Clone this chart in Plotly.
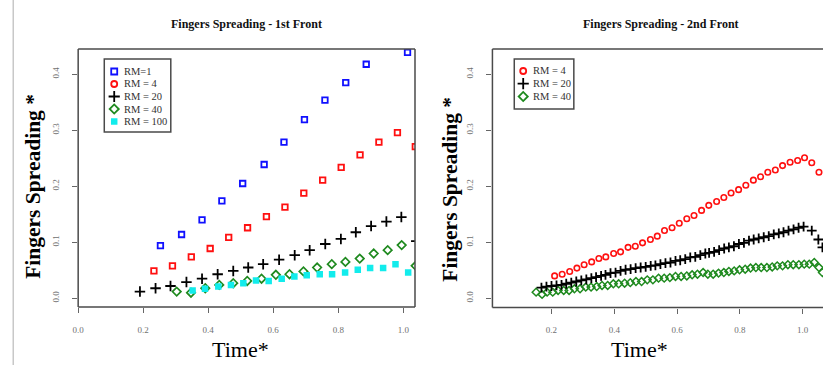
import plotly.graph_objects as go

W, H = 823, 365

# ---------------- DATA ----------------
# Left panel: Fingers Spreading - 1st Front
l_rm1_x = [0.253, 0.318, 0.381, 0.442, 0.506, 0.572, 0.633, 0.696, 0.759, 0.823, 0.886, 1.013]
l_rm1_y = [0.094, 0.114, 0.140, 0.174, 0.205, 0.239, 0.279, 0.319, 0.354, 0.385, 0.418, 0.439]

l_rm4_x = [0.233, 0.290, 0.348, 0.406, 0.463, 0.521, 0.579, 0.636, 0.694, 0.752, 0.809, 0.867, 0.925, 0.982, 1.037]
l_rm4_y = [0.049, 0.058, 0.074, 0.089, 0.109, 0.126, 0.146, 0.163, 0.188, 0.211, 0.234, 0.256, 0.279, 0.296, 0.271]

l_rm20_x = [0.190, 0.238, 0.284, 0.333, 0.381, 0.429, 0.477, 0.523, 0.569, 0.618,
            0.666, 0.712, 0.760, 0.808, 0.854, 0.901, 0.948, 0.994, 1.040]
l_rm20_y = [0.012, 0.018, 0.022, 0.029, 0.035, 0.043, 0.049, 0.055, 0.061, 0.069,
            0.077, 0.086, 0.097, 0.106, 0.118, 0.129, 0.137, 0.145, 0.102]

l_rm40_x = [0.303, 0.347, 0.391, 0.434, 0.477, 0.520, 0.564, 0.608, 0.650,
            0.693, 0.735, 0.780, 0.822, 0.866, 0.909, 0.952, 0.995, 1.038]
l_rm40_y = [0.012, 0.010, 0.018, 0.024, 0.027, 0.031, 0.035, 0.042, 0.043,
            0.048, 0.055, 0.061, 0.065, 0.071, 0.080, 0.086, 0.095, 0.058]

l_rm100_x = [0.352, 0.390, 0.431, 0.470, 0.508, 0.547, 0.586, 0.626, 0.665,
             0.703, 0.743, 0.781, 0.821, 0.860, 0.898, 0.938, 0.976, 1.015]
l_rm100_y = [0.014, 0.017, 0.021, 0.024, 0.027, 0.032, 0.031, 0.035, 0.039,
             0.041, 0.043, 0.043, 0.046, 0.051, 0.054, 0.054, 0.061, 0.046]

# Right panel: Fingers Spreading - 2nd Front
r_rm4_x = [0.210, 0.234, 0.258, 0.281, 0.304, 0.328, 0.351, 0.373, 0.398, 0.420,
           0.444, 0.467, 0.490, 0.515, 0.537, 0.560, 0.584, 0.607, 0.631, 0.654,
           0.678, 0.701, 0.726, 0.749, 0.772, 0.796, 0.819, 0.843, 0.866, 0.889,
           0.913, 0.936, 0.960, 0.984, 1.006, 1.029, 1.052]
r_rm4_y = [0.040, 0.043, 0.048, 0.054, 0.060, 0.065, 0.071, 0.074, 0.080, 0.083,
           0.091, 0.093, 0.099, 0.105, 0.111, 0.121, 0.126, 0.134, 0.142, 0.148,
           0.157, 0.166, 0.173, 0.180, 0.188, 0.194, 0.202, 0.211, 0.217, 0.225,
           0.229, 0.237, 0.243, 0.246, 0.251, 0.242, 0.225]

r_rm20_x = [0.168, 0.184, 0.200, 0.216, 0.232, 0.247, 0.263, 0.279, 0.295, 0.311,
            0.327, 0.342, 0.358, 0.372, 0.388, 0.404, 0.420, 0.436, 0.452, 0.468,
            0.484, 0.500, 0.516, 0.531, 0.547, 0.563, 0.579, 0.595, 0.610, 0.626,
            0.642, 0.658, 0.674, 0.690, 0.702, 0.718, 0.734, 0.750, 0.765, 0.781,
            0.797, 0.813, 0.829, 0.844, 0.860, 0.876, 0.892, 0.908, 0.924, 0.939,
            0.955, 0.971, 0.987, 1.003, 1.029, 1.050, 1.063]
r_rm20_y = [0.019, 0.021, 0.022, 0.023, 0.024, 0.026, 0.028, 0.030, 0.032, 0.034,
            0.036, 0.038, 0.040, 0.042, 0.045, 0.046, 0.049, 0.051, 0.052, 0.054,
            0.055, 0.056, 0.058, 0.059, 0.061, 0.063, 0.064, 0.067, 0.068, 0.070,
            0.073, 0.074, 0.077, 0.080, 0.081, 0.083, 0.086, 0.089, 0.091, 0.093,
            0.097, 0.099, 0.103, 0.105, 0.107, 0.109, 0.111, 0.114, 0.116, 0.118,
            0.121, 0.123, 0.126, 0.128, 0.121, 0.105, 0.091]

r_rm40_x = [0.151, 0.170, 0.186, 0.204, 0.221, 0.239, 0.256, 0.273, 0.291, 0.309,
            0.326, 0.344, 0.361, 0.379, 0.397, 0.414, 0.433, 0.451, 0.469, 0.487,
            0.505, 0.523, 0.541, 0.559, 0.577, 0.595, 0.613, 0.631, 0.648, 0.665,
            0.683, 0.698, 0.715, 0.732, 0.749, 0.765, 0.782, 0.799, 0.817, 0.834,
            0.851, 0.868, 0.886, 0.903, 0.919, 0.936, 0.953, 0.970, 0.988, 1.005,
            1.021, 1.037, 1.052, 1.063]
r_rm40_y = [0.011, 0.007, 0.011, 0.011, 0.014, 0.014, 0.014, 0.017, 0.017, 0.020,
            0.020, 0.021, 0.023, 0.023, 0.026, 0.026, 0.027, 0.028, 0.030, 0.030,
            0.033, 0.033, 0.036, 0.036, 0.037, 0.039, 0.039, 0.040, 0.042, 0.043,
            0.046, 0.043, 0.043, 0.045, 0.046, 0.048, 0.049, 0.051, 0.052, 0.054,
            0.055, 0.055, 0.055, 0.056, 0.058, 0.058, 0.060, 0.060, 0.060, 0.061,
            0.061, 0.064, 0.055, 0.046]

x_ticks_left = [0.0, 0.2, 0.4, 0.6, 0.8, 1.0]
x_ticks_right = [0.2, 0.4, 0.6, 0.8, 1.0]
y_ticks = [0.0, 0.1, 0.2, 0.3, 0.4]

left_title = "Fingers Spreading - 1st Front"
right_title = "Fingers Spreading - 2nd Front"
y_title = "Fingers Spreading *"
x_title = "Time*"
left_legend_labels = ["RM=1", "RM = 4", "RM = 20", "RM = 40", "RM = 100"]
right_legend_labels = ["RM = 4", "RM = 20", "RM = 40"]

# ---------------- STYLE ----------------
BLUE, RED, BLACK, GREEN, CYAN = "#1010ff", "#ff1010", "#000000", "#1f8a1f", "#12ecec"
SERIF = "Liberation Serif, Times New Roman, serif"
FRAME = "#4a4a4a"

def px(xp):
    return xp / W

def py(yp):
    return 1 - yp / H

sym_left = {
    "sq": dict(symbol="square-open", size=5.5, line=dict(width=1.8)),
    "plus": dict(symbol="cross-thin-open", size=7.5, line=dict(width=1.8)),
    "dia": dict(symbol="diamond-open", size=6.5, line=dict(width=1.7)),
    "fsq": dict(symbol="square", size=6.5, line=dict(width=0)),
}
sym_right = {
    "circ": dict(symbol="circle-open", size=5.5, line=dict(width=1.6)),
    "plus": dict(symbol="cross-thin-open", size=7, line=dict(width=1.8)),
    "dia": dict(symbol="diamond-open", size=6, line=dict(width=1.5)),
}
sym_legend = {
    "sq": dict(symbol="square-open", size=6, line=dict(width=1.8)),
    "circ": dict(symbol="circle-open", size=6, line=dict(width=1.8)),
    "plus": dict(symbol="cross-thin-open", size=8, line=dict(width=1.8)),
    "dia": dict(symbol="diamond-open", size=7, line=dict(width=1.8)),
    "fsq": dict(symbol="square", size=6.5, line=dict(width=0)),
}

def mk(table, kind, color):
    d = dict(table[kind])
    d["color"] = color
    d["line"] = dict(d["line"], color=color)
    return d

fig = go.Figure()

left_series = [
    (l_rm1_x, l_rm1_y, "sq", BLUE),
    (l_rm4_x, l_rm4_y, "sq", RED),
    (l_rm20_x, l_rm20_y, "plus", BLACK),
    (l_rm40_x, l_rm40_y, "dia", GREEN),
    (l_rm100_x, l_rm100_y, "fsq", CYAN),
]
for xs, ys, k, c in left_series:
    fig.add_trace(go.Scatter(x=xs, y=ys, mode="markers", marker=mk(sym_left, k, c),
                             xaxis="x", yaxis="y", showlegend=False))

right_series = [
    (r_rm40_x, r_rm40_y, "dia", GREEN),
    (r_rm20_x, r_rm20_y, "plus", BLACK),
    (r_rm4_x, r_rm4_y, "circ", RED),
]
for xs, ys, k, c in right_series:
    fig.add_trace(go.Scatter(x=xs, y=ys, mode="markers", marker=mk(sym_right, k, c),
                             xaxis="x2", yaxis="y2", showlegend=False))

# ---------------- manual legends ----------------
shapes = []
annotations = []

def add_legend(box, x_mark, x_text, ys, labels, kinds, colors):
    x0, y0, x1, y1 = box
    shapes.append(dict(type="rect", xref="paper", yref="paper",
                       x0=px(x0), x1=px(x1), y0=py(y1), y1=py(y0),
                       line=dict(color=FRAME, width=1.5), layer="above"))
    for yy, lab, k, c in zip(ys, labels, kinds, colors):
        fig.add_trace(go.Scatter(x=[x_mark], y=[yy], mode="markers", marker=mk(sym_legend, k, c),
                                 xaxis="x3", yaxis="y3", showlegend=False, hoverinfo="skip"))
        annotations.append(dict(text=lab, x=px(x_text), y=py(yy), xref="paper", yref="paper",
                                xanchor="left", yanchor="middle", showarrow=False,
                                font=dict(family=SERIF, size=10.5, color="#333")))

add_legend((99, 59, 166, 132), 109, 117, [71.5, 84, 96.5, 109, 121.5],
           left_legend_labels, ["sq", "circ", "plus", "dia", "fsq"],
           [BLUE, RED, BLACK, GREEN, CYAN])
add_legend((512, 59, 572, 109), 521, 529, [71, 83.7, 96.5],
           right_legend_labels, ["circ", "plus", "dia"], [RED, BLACK, GREEN])

# titles
for cx, t in [(242.5, left_title), (660, right_title)]:
    annotations.append(dict(text="<b>" + t + "</b>", x=px(cx), y=py(24), xref="paper", yref="paper",
                            xanchor="center", yanchor="middle", showarrow=False,
                            font=dict(family=SERIF, size=12, color="#111")))
for cx, cy in [(27, 186), (447, 189)]:
    annotations.append(dict(text="<b>" + y_title + "</b>", x=px(cx), y=py(cy), xref="paper", yref="paper",
                            xanchor="center", yanchor="middle", showarrow=False, textangle=-90,
                            font=dict(family=SERIF, size=21.5, color="#000")))
for cx in [236, 638]:
    annotations.append(dict(text=x_title, x=px(cx), y=py(349), xref="paper", yref="paper",
                            xanchor="center", yanchor="middle", showarrow=False,
                            font=dict(family=SERIF, size=22, color="#000")))

# page border line at left
shapes.append(dict(type="line", xref="paper", yref="paper", x0=px(7.3), x1=px(7.3), y0=0, y1=1,
                   line=dict(color="#c8c8c8", width=1.5)))

# panel frames (left panel: full box; right panel: left, top, bottom — its right side is cut off)
def seg(x0, y0, x1, y1):
    shapes.append(dict(type="line", xref="paper", yref="paper", x0=px(x0), x1=px(x1),
                       y0=py(y0), y1=py(y1), line=dict(color=FRAME, width=1.5)))

seg(72.7, 49, 412, 49); seg(72.7, 307, 412, 307); seg(72.7, 49, 72.7, 307); seg(412, 49, 412, 307)
seg(490, 49, 823, 49); seg(490, 307.5, 823, 307.5); seg(490, 49, 490, 307.5)

axis_common = dict(showgrid=False, zeroline=False, showline=False,
                   ticks="outside", ticklen=5, tickwidth=1, tickcolor="#666",
                   tickfont=dict(family=SERIF, size=9, color="#707070"), tickformat=".1f")

fig.update_layout(
    width=W, height=H, margin=dict(l=0, r=0, t=0, b=0),
    paper_bgcolor="white", plot_bgcolor="rgba(0,0,0,0)", showlegend=False,
    xaxis=dict(axis_common, domain=[px(72.7), px(412)], range=[0, 1.036], tickvals=x_ticks_left,
               anchor="y", ticklabelstandoff=9),
    yaxis=dict(axis_common, domain=[py(307), py(49)], range=[-0.0155, 0.4452], tickvals=y_ticks,
               anchor="x", tickangle=-90, ticklabelstandoff=10),
    xaxis2=dict(axis_common, domain=[px(490), 1.0], range=[0.0119, 1.0648], tickvals=x_ticks_right,
                anchor="y2", ticklabelstandoff=9),
    yaxis2=dict(axis_common, domain=[py(307.5), py(49)], range=[-0.0164, 0.4452], tickvals=y_ticks,
                anchor="x2", tickangle=-90, ticklabelstandoff=10),
    xaxis3=dict(domain=[0, 1], range=[0, W], visible=False, anchor="y3", fixedrange=True),
    yaxis3=dict(domain=[0, 1], range=[H, 0], visible=False, anchor="x3", fixedrange=True),
    shapes=shapes, annotations=annotations,
)

fig.write_html("out.html")
